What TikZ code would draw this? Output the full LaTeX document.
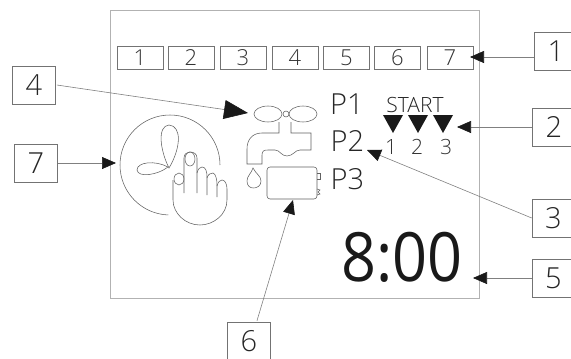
\documentclass[tikz,border=0pt]{standalone}
\usepackage{fontspec}
\setmainfont{Open Sans Light}
\newfontfamily\clockfont{Open Sans}
\usetikzlibrary{arrows.meta}
\begin{document}
\begin{tikzpicture}[
    x=1pt, y=-1pt,
    % --- frames ---
    panel/.style={draw=black!30, line width=0.9pt},
    daybox/.style={
        rectangle,
        draw=black!55,
        line width=0.6pt,
        minimum width=46pt,
        minimum height=23pt,
        inner sep=0pt,
        text=black!80,
        font=\fontsize{22}{22}\selectfont
    },
    callbox/.style={
        rectangle,
        draw=black!55,
        line width=0.6pt,
        minimum width=43pt,
        minimum height=38pt,
        inner sep=0pt,
        text=black!85,
        font=\fontsize{29}{29}\selectfont
    },
    % --- texts on the panel ---
    prog/.style={inner sep=0pt, text=black!85, font=\fontsize{29}{29}\selectfont},
    startlab/.style={inner sep=0pt, text=black!85, font=\fontsize{21}{21}\selectfont},
    startnum/.style={inner sep=0pt, text=black!80, font=\fontsize{21}{21}\selectfont},
    clock/.style={inner sep=0pt, text=black!90, font=\clockfont\fontsize{68}{68}\selectfont, xscale=0.9},
    % --- lines ---
    icon/.style={draw=black!62, line width=0.55pt},
    lead/.style={draw=black!50, line width=0.6pt},
    tipa/.style={lead, -{Triangle[length=14pt, width=12pt, black!90]}},
    tipb/.style={lead, -{Triangle[length=24pt, width=19pt, black!90]}}
]

% --- panel ---
\useasboundingbox (0,0) rectangle (571,359);
\clip (0,0) rectangle (571,359);
\draw[panel] (110.5,10) rectangle (479,298);

% --- day row ---
\node[daybox] (day1) at (140,58) {1};
\node[daybox] (day2) at (191,58) {2};
\node[daybox] (day3) at (243,58) {3};
\node[daybox] (day4) at (295,58) {4};
\node[daybox] (day5) at (346.5,58) {5};
\node[daybox] (day6) at (397.5,58) {6};
\node[daybox] (day7) at (450,58) {7};

% --- texts ---
\node[prog] (p1) at (347,104) {P1};
\node[prog] (p2) at (347.5,141) {P2};
\node[prog] (p3) at (347.5,179) {P3};
\node[startlab] (start) at (415,105) {START};
\node[startnum] (num1) at (391,147) {1};
\node[startnum] (num2) at (417,147) {2};
\node[startnum] (num3) at (446,147) {3};
\node[clock] (time) at (402,257) {8:00};

% --- start marks ---
\fill[black!90] (383,115) -- (403,115) -- (393,133) -- cycle;
\fill[black!90] (408,115) -- (428,115) -- (418,133) -- cycle;
\fill[black!90] (433,115) -- (453,115) -- (443,133) -- cycle;

% --- tap ---
\draw[icon] (268,114) ellipse [x radius=14pt, y radius=8pt];
\draw[icon] (286,114) circle [radius=3pt];
\draw[icon] (303,114) ellipse [x radius=14pt, y radius=8pt];
\draw[icon] (279,122) -- (279,133) -- (262,133)
    .. controls (252,133) and (247,140) .. (247,149)
    -- (247,164) -- (262,164) -- (262,155)
    .. controls (262,151) and (264,150) .. (268,150)
    -- (275,150)
    .. controls (280,150) and (281,156) .. (287,156)
    .. controls (293,156) and (295,150) .. (300,150)
    -- (311,150) -- (311,133) -- (291,133) -- (291,122);
\draw[icon] (253,168)
    .. controls (251,174) and (247,176) .. (247,181)
    .. controls (247,186) and (250,188) .. (253.5,188)
    .. controls (257,188) and (261,186) .. (261,181)
    .. controls (261,176) and (256,174) .. (253,168) -- cycle;

% --- battery ---
\draw[icon, rounded corners=3pt] (267,167) rectangle (317,199);
\draw[icon] (317,173) -- (320,173) -- (320,179) -- (317,179);
\draw[icon] (317,189) -- (320,190) -- (318,192) -- (320,194) -- (317,195);

% --- dial and hand ---
\draw[icon] (220,165) arc [start angle=0, end angle=268, radius=50pt];
\draw[icon] (169,168)
    .. controls (160,150) and (157,126) .. (169,125)
    .. controls (182,126) and (181,148) .. (169,168) -- cycle;
\draw[icon] (168,167)
    .. controls (155,160) and (137,162) .. (137,170)
    .. controls (138,178) and (158,175) .. (168,167) -- cycle;
\draw[icon] (179,179) ellipse [x radius=5pt, y radius=6pt];
\draw[icon] (190,159) ellipse [x radius=5pt, y radius=7pt];
\draw[icon] (184,193) -- (184,158)
    .. controls (184,154) and (187,152) .. (190,152)
    .. controls (194,152) and (197,154) .. (197,158) -- (197,193);
\draw[icon] (197,173) .. controls (198,169) and (200,167) .. (202,167)
    .. controls (206,167) and (207,172) .. (207,177) -- (207,195);
\draw[icon] (207,178) .. controls (208,174) and (211,173) .. (213,173)
    .. controls (216,174) and (217,180) .. (217,185) -- (217,197);
\draw[icon] (217,186) .. controls (218,182) and (220,180) .. (222,180)
    .. controls (225,180) and (227,184) .. (227,189) -- (227,200)
    .. controls (227,215) and (213,225) .. (200,225)
    .. controls (185,225) and (173,213) .. (173,200) -- (173,180);

% --- callouts ---
\node[callbox] (call4) at (34,85) {4};
\node[callbox] (call7) at (36,163) {7};
\node[callbox] (call6) at (249,341) {6};
\node[callbox] (call1) at (556,51) {1};
\node[callbox] (call2) at (554,127) {2};
\node[callbox] (call3) at (553.5,218) {3};
\node[callbox] (call5) at (553.5,278) {5};

% --- free ends of the leaders ---
\coordinate (tap) at (248,113);
\coordinate (dial) at (116,163);
\coordinate (batt) at (293,200);
\coordinate (week) at (470,57);
\coordinate (mark) at (457,127);
\coordinate (prgm) at (367,150);
\coordinate (disp) at (473,278);

\draw[tipb] (call4.east) ++(1,0) -- (tap);
\draw[tipa] (call7.east) -- (dial);
\draw[tipa] (call6.north) ++(8,-1) -- (batt);
\draw[tipa] (call1.west |- week) -- (week);
\draw[tipa] (call2.west) -- (mark);
\draw[tipa] (call3.west) -- (prgm);
\draw[tipa] (call5.west) -- (disp);

\end{tikzpicture}
\end{document}
